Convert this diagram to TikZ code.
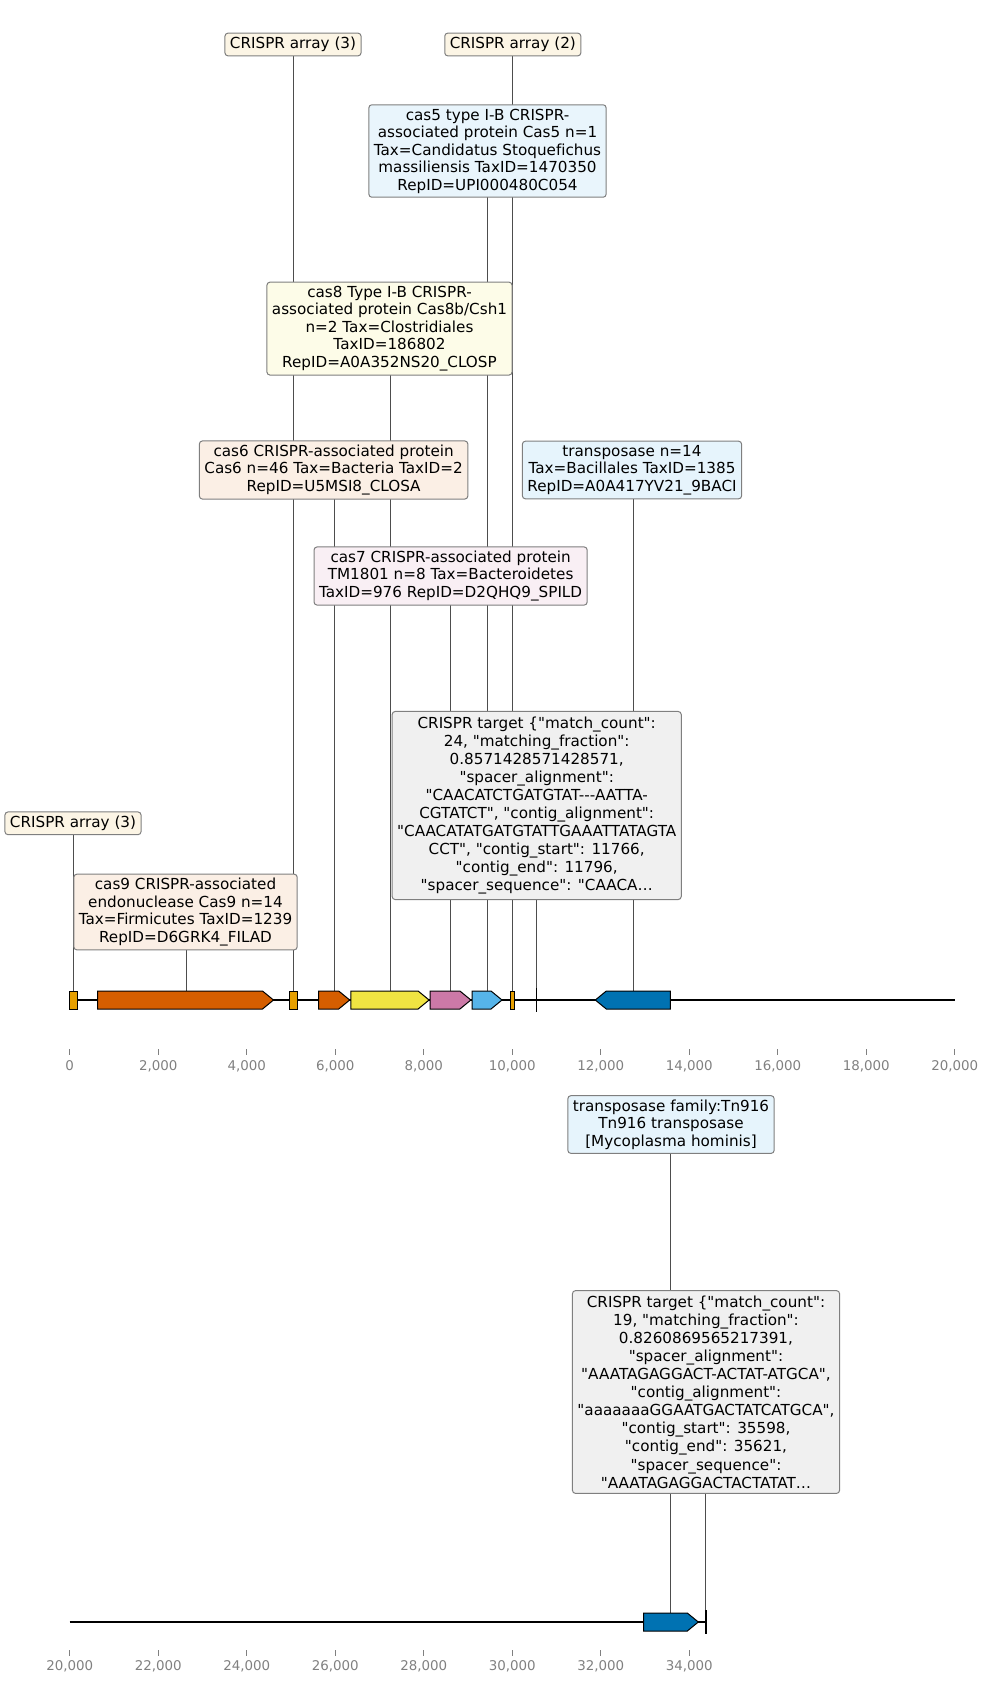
\documentclass[tikz,border=0pt]{standalone}
\usepackage{fontspec}
\setmainfont{DejaVu Sans}[Ligatures={TeXOff,CommonOff}]
\pgfdeclarelayer{bg}
\pgfsetlayers{bg,main}
\definecolor{cOrange}{HTML}{E69F00}
\definecolor{cVerm}{HTML}{D55E00}
\definecolor{cYellow}{HTML}{F0E442}
\definecolor{cPink}{HTML}{CC79A7}
\definecolor{cSky}{HTML}{56B4E9}
\definecolor{cBlue}{HTML}{0072B2}
\definecolor{boxedge}{HTML}{7F7F7F}
\definecolor{leadc}{HTML}{4D4D4D}
\definecolor{tickc}{HTML}{808080}
\definecolor{tgtfill}{HTML}{F0F0F0}
\begin{document}
\begin{tikzpicture}[x=1pt,y=-1pt,
 lbl/.style={draw=boxedge, rounded corners=3pt, line width=1pt, align=center, inner xsep=5pt, inner ysep=4pt, font=\fontsize{15.2}{17.5}\selectfont},
 tgt/.style={lbl, fill=tgtfill, inner ysep=5pt, font=\fontsize{15.2}{18.1}\selectfont},
 lead/.style={draw=leadc, line width=0.8pt},
 gene/.style={draw=black, line width=1pt},
 track/.style={draw=black, line width=2.2pt},
 marker/.style={draw=black, line width=1.5pt},
 tickmark/.style={draw=tickc, line width=0.9pt},
 ticklbl/.style={text=tickc, font=\fontsize{13.4}{15}\selectfont, inner sep=0pt}
]
\useasboundingbox (0,0) rectangle (989,1682);

% ---------- label boxes ----------
\node[lbl, fill=cOrange!10!white] (l-arr3a) at (73,823.3) {CRISPR array (3)};
\node[lbl, fill=cVerm!10!white] (l-cas9) at (185.5,912) {cas9 CRISPR-associated\\endonuclease Cas9 n=14\\Tax=Firmicutes TaxID=1239\\RepID=D6GRK4\_FILAD};
\node[lbl, fill=cOrange!10!white] (l-arr3b) at (293,44.5) {CRISPR array (3)};
\node[lbl, fill=cOrange!10!white] (l-arr2) at (512.8,44.5) {CRISPR array (2)};
\node[lbl, fill=cSky!13!white] (l-cas5) at (487.5,151) {cas5 type I-B CRISPR-\\associated protein Cas5 n=1\\Tax=Candidatus Stoquefichus\\massiliensis TaxID=1470350\\RepID=UPI000480C054};
\node[lbl, fill=cYellow!12!white] (l-cas8) at (389.5,328.6) {cas8 Type I-B CRISPR-\\associated protein Cas8b/Csh1\\n=2 Tax=Clostridiales\\TaxID=186802\\RepID=A0A352NS20\_CLOSP};
\node[lbl, fill=cVerm!10!white] (l-cas6) at (333.6,470) {cas6 CRISPR-associated protein\\Cas6 n=46 Tax=Bacteria TaxID=2\\RepID=U5MSI8\_CLOSA};
\node[lbl, fill=cSky!15!white] (l-tra) at (632,470) {transposase n=14\\Tax=Bacillales TaxID=1385\\RepID=A0A417YV21\_9BACI};
\node[lbl, fill=cPink!12!white] (l-cas7) at (450.6,576) {cas7 CRISPR-associated protein\\TM1801 n=8 Tax=Bacteroidetes\\TaxID=976 RepID=D2QHQ9\_SPILD};
\node[tgt] (l-tgt1) at (536.7,805.5) {CRISPR target \{"match\_count":\\24, "matching\_fraction":\\0.8571428571428571,\\"spacer\_alignment":\\"CAACATCTGATGTAT-{}-{}-AATTA-\\CGTATCT", "contig\_alignment":\\"CAACATATGATGTATTGAAATTATAGTA\\CCT", "contig\_start": 11766,\\"contig\_end": 11796,\\"spacer\_sequence": "CAACA…};
\node[lbl, fill=cSky!15!white] (l-tra2) at (671,1124.5) {transposase family:Tn916\\Tn916 transposase\\{[}Mycoplasma hominis{]}};
\node[tgt] (l-tgt2) at (706,1392) {CRISPR target \{"match\_count":\\19, "matching\_fraction":\\0.8260869565217391,\\"spacer\_alignment":\\"AAATAGAGGACT-ACTAT-ATGCA",\\"contig\_alignment":\\"aaaaaaaGGAATGACTATCATGCA",\\"contig\_start": 35598,\\"contig\_end": 35621,\\"spacer\_sequence":\\"AAATAGAGGACTACTATAT…};

% ---------- feature anchor points ----------
\coordinate (f-arr1) at (73.3,991);
\coordinate (f-cas9) at (186.4,991);
\coordinate (f-arr2) at (293.2,991);
\coordinate (f-cas6) at (334.4,991);
\coordinate (f-cas8) at (389.9,991);
\coordinate (f-cas7) at (450.5,991);
\coordinate (f-cas5) at (487.4,991);
\coordinate (f-arr3) at (512.8,991);
\coordinate (f-tgt1) at (536.4,988);
\coordinate (f-tra) at (632.9,991);
\coordinate (f-tra2) at (670.6,1613);
\coordinate (f-tgt2) at (705.8,1610);

% ---------- leader lines (behind boxes) ----------
\begin{pgfonlayer}{bg}
\draw[lead] (f-arr1 |- l-arr3a.center) -- (f-arr1);
\draw[lead] (f-cas9 |- l-cas9.center) -- (f-cas9);
\draw[lead] (f-arr2 |- l-arr3b.center) -- (f-arr2);
\draw[lead] (f-cas6 |- l-cas6.center) -- (f-cas6);
\draw[lead] (f-cas8 |- l-cas8.center) -- (f-cas8);
\draw[lead] (f-cas7 |- l-cas7.center) -- (f-cas7);
\draw[lead] (f-cas5 |- l-cas5.center) -- (f-cas5);
\draw[lead] (f-arr3 |- l-arr2.center) -- (f-arr3);
\draw[lead] (f-tgt1 |- l-tgt1.center) -- (f-tgt1);
\draw[lead] (f-tra |- l-tra.center) -- (f-tra);
\draw[lead] (f-tra2 |- l-tra2.center) -- (f-tra2);
\draw[lead] (f-tgt2 |- l-tgt2.center) -- (f-tgt2);
\end{pgfonlayer}

% ---------- track 1 ----------
\coordinate (t1s) at (69.7,1000);
\coordinate (t1e) at (955,1000);
\draw[track] (t1s) -- (t1e);
\draw[gene, fill=cOrange] (69.7,991) rectangle (77,1009);
\draw[gene, fill=cVerm] (97.6,991) -- (262.5,991) -- (273.5,1000) -- (262.5,1009) -- (97.6,1009) -- cycle;
\draw[gene, fill=cOrange] (289.6,991) rectangle (297.1,1009);
\draw[gene, fill=cVerm] (318.6,991) -- (338.7,991) -- (349.7,1000) -- (338.7,1009) -- (318.6,1009) -- cycle;
\draw[gene, fill=cYellow] (350.8,991) -- (418.1,991) -- (429.1,1000) -- (418.1,1009) -- (350.8,1009) -- cycle;
\draw[gene, fill=cPink] (430.2,991) -- (459.9,991) -- (470.9,1000) -- (459.9,1009) -- (430.2,1009) -- cycle;
\draw[gene, fill=cSky] (472,991) -- (491,991) -- (502,1000) -- (491,1009) -- (472,1009) -- cycle;
\draw[gene, fill=cOrange] (510.6,991) rectangle (514.9,1009);
\draw[marker] (536.4,988) -- (536.4,1012);
\draw[gene, fill=cBlue] (670.4,991) -- (606.3,991) -- (595.3,1000) -- (606.3,1009) -- (670.4,1009) -- cycle;

\foreach \k/\t in {0/0,1/{2,000},2/{4,000},3/{6,000},4/{8,000},5/{10,000},6/{12,000},7/{14,000},8/{16,000},9/{18,000},10/{20,000}}{
  \draw[tickmark] ({69.7+88.5*\k},1049) -- ({69.7+88.5*\k},1055);
  \node[ticklbl] (tk1-\k) at ({69.7+88.5*\k},1066) {\t};
}

% ---------- track 2 ----------
\coordinate (t2s) at (69.7,1622);
\coordinate (t2e) at (705.8,1622);
\draw[track] (t2s) -- (t2e);
\draw[gene, fill=cBlue] (643.6,1613) -- (687.3,1613) -- (698.3,1622) -- (687.3,1631) -- (643.6,1631) -- cycle;
\draw[marker] (705.8,1610) -- (705.8,1634);

\foreach \k/\t in {0/{20,000},1/{22,000},2/{24,000},3/{26,000},4/{28,000},5/{30,000},6/{32,000},7/{34,000}}{
  \draw[tickmark] ({69.7+88.5*\k},1650) -- ({69.7+88.5*\k},1656);
  \node[ticklbl] (tk2-\k) at ({69.7+88.5*\k},1666) {\t};
}
\end{tikzpicture}
\end{document}
